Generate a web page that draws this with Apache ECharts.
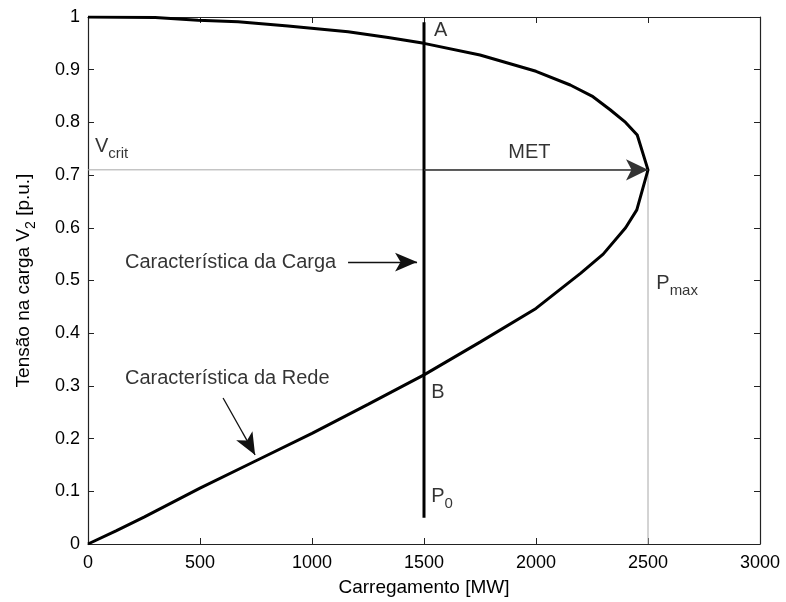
<!DOCTYPE html>
<html>
<head>
<meta charset="utf-8">
<script src="https://cdn.jsdelivr.net/npm/echarts@6/dist/echarts.min.js"></script>
<style>
  html, body { margin: 0; padding: 0; background: #fff; }
  #chart { width: 786px; height: 602px; }
</style>
</head>
<body>
<div id="chart"></div>
<script>
// Network PV curve: lower branch from the origin up to the nose, then the upper branch back to P = 0
const networkP = [0, 125, 250, 500, 750, 1000, 1250, 1500, 1750, 2000, 2200, 2300, 2400, 2450, 2475, 2500,
                  2452, 2400, 2331, 2250, 2153, 2000, 1750, 1500, 1340, 1161, 893, 670, 491, 300, 0];
const networkV = [0, 0.025, 0.051, 0.106, 0.158, 0.21, 0.265, 0.321, 0.383, 0.447, 0.514, 0.55, 0.60, 0.634, 0.672, 0.71,
                  0.776, 0.80, 0.824, 0.85, 0.871, 0.897, 0.928, 0.95, 0.961, 0.972, 0.983, 0.991, 0.994, 0.999, 1.0];

// Constant-power load characteristic at P0
const loadP = [1500, 1500];
const loadV = [0.05, 0.99];

// Critical operating point (nose of the curve)
const pMax = 2500;
const vCrit = 0.71;

// Axis ticks
const xTicks = [0, 500, 1000, 1500, 2000, 2500, 3000];
const yTicks = [0, 0.1, 0.2, 0.3, 0.4, 0.5, 0.6, 0.7, 0.8, 0.9, 1];

// Annotation arrows: [startP, startV, endP, endV]
const cargaArrow = [1161, 0.535, 1469, 0.535];
const redeArrow = [603, 0.277, 746, 0.169];

// Text labels: [P, V, text]  (P, V = left edge / vertical centre)
const textLabels = [
  [165, 0.535, 'Característica da Carga'],
  [165, 0.315, 'Característica da Rede'],
  [1876, 0.742, 'MET'],
  [1545, 0.975, 'A'],
  [1532, 0.288, 'B'],
  [31, 0.755, '{m|V}{s|crit}'],
  [1532, 0.09, '{m|P}{s|0}'],
  [2537, 0.495, '{m|P}{s|max}']
];

const FONT = 'Liberation Sans, Arial, sans-serif';
const richSub = {
  m: { fontSize: 20, lineHeight: 20, verticalAlign: 'top', color: '#000', fontFamily: FONT },
  s: { fontSize: 15, lineHeight: 15, padding: [10, 0, 0, 0], verticalAlign: 'top', color: '#000', fontFamily: FONT }
};

const chart = echarts.init(document.getElementById('chart'), null, { renderer: 'canvas' });

const axisLine = { show: true, onZero: false, lineStyle: { color: '#222', width: 1.2 } };
const tickStyle = { show: true, inside: true, length: 6, lineStyle: { color: '#222', width: 1 } };
const plainNumber = v => String(v);

chart.setOption({
  animation: false,
  backgroundColor: '#fff',
  grid: { left: 88, right: 26, top: 17, bottom: 58, containLabel: false },
  xAxis: [
    {
      type: 'value', min: xTicks[0], max: xTicks[xTicks.length - 1], interval: xTicks[1] - xTicks[0],
      position: 'bottom',
      axisLine, axisTick: tickStyle, splitLine: { show: false },
      axisLabel: { color: '#000', fontSize: 18, fontFamily: FONT, margin: 10, formatter: plainNumber },
      name: 'Carregamento [MW]', nameLocation: 'middle', nameGap: 34,
      nameTextStyle: { color: '#000', fontSize: 19, fontFamily: FONT }
    },
    {
      type: 'value', min: xTicks[0], max: xTicks[xTicks.length - 1], interval: xTicks[1] - xTicks[0],
      position: 'top',
      axisLine, axisTick: tickStyle, splitLine: { show: false }, axisLabel: { show: false }
    }
  ],
  yAxis: [
    {
      type: 'value', min: yTicks[0], max: yTicks[yTicks.length - 1], interval: 0.1,
      position: 'left',
      axisLine, axisTick: tickStyle, splitLine: { show: false },
      axisLabel: { color: '#000', fontSize: 18, fontFamily: FONT, margin: 8, formatter: plainNumber },
      name: '{t|Tensão na carga V}{s|2}{t| [p.u.]}', nameLocation: 'middle', nameGap: 54, nameRotate: 90,
      nameTextStyle: {
        rich: {
          t: { fontSize: 19, lineHeight: 20, verticalAlign: 'top', color: '#000', fontFamily: FONT },
          s: { fontSize: 14, lineHeight: 14, padding: [10, 0, 0, 0], verticalAlign: 'top', color: '#000', fontFamily: FONT }
        }
      }
    },
    {
      type: 'value', min: yTicks[0], max: yTicks[yTicks.length - 1], interval: 0.1,
      position: 'right',
      axisLine, axisTick: tickStyle, splitLine: { show: false }, axisLabel: { show: false }
    }
  ],
  series: [
    {
      // thin guide lines for V_crit and P_max
      type: 'line', xAxisIndex: 0, yAxisIndex: 0,
      data: [[0, vCrit], [pMax, vCrit], [pMax, 0]],
      symbol: 'none', silent: true, z: 1,
      lineStyle: { color: '#a8a8a8', width: 1 }
    },
    {
      // MET arrow from the load line to the nose
      type: 'line', xAxisIndex: 0, yAxisIndex: 0, data: [], silent: true, z: 2,
      markLine: {
        silent: true, symbol: ['none', 'arrow'], symbolSize: [16, 22], label: { show: false },
        lineStyle: { color: '#333', width: 1.5, type: 'solid' },
        data: [[{ coord: [loadP[0], vCrit] }, { coord: [pMax, vCrit] }]]
      }
    },
    {
      type: 'line', xAxisIndex: 0, yAxisIndex: 0,
      data: networkP.map((p, i) => [p, networkV[i]]),
      symbol: 'none', silent: true, z: 3,
      lineStyle: { color: '#000', width: 3 }
    },
    {
      type: 'line', xAxisIndex: 0, yAxisIndex: 0,
      data: loadP.map((p, i) => [p, loadV[i]]),
      symbol: 'none', silent: true, z: 3,
      lineStyle: { color: '#000', width: 3 }
    },
    {
      // pointer arrows for the two characteristic labels
      type: 'line', xAxisIndex: 0, yAxisIndex: 0, data: [], silent: true, z: 4,
      markLine: {
        silent: true, symbol: ['none', 'arrow'], symbolSize: [14, 22], label: { show: false },
        lineStyle: { color: '#111', width: 1.3, type: 'solid' },
        data: [cargaArrow, redeArrow].map(a => [{ coord: [a[0], a[1]] }, { coord: [a[2], a[3]] }])
      }
    },
    {
      type: 'scatter', xAxisIndex: 0, yAxisIndex: 0, silent: true, z: 5,
      symbolSize: 0,
      data: textLabels.map(t => ({ value: [t[0], t[1]], name: t[2] })),
      label: {
        show: true, position: 'right', distance: 0,
        formatter: p => p.name,
        color: '#000', fontSize: 20, fontFamily: FONT,
        rich: richSub
      }
    }
  ]
});
</script>
</body>
</html>
